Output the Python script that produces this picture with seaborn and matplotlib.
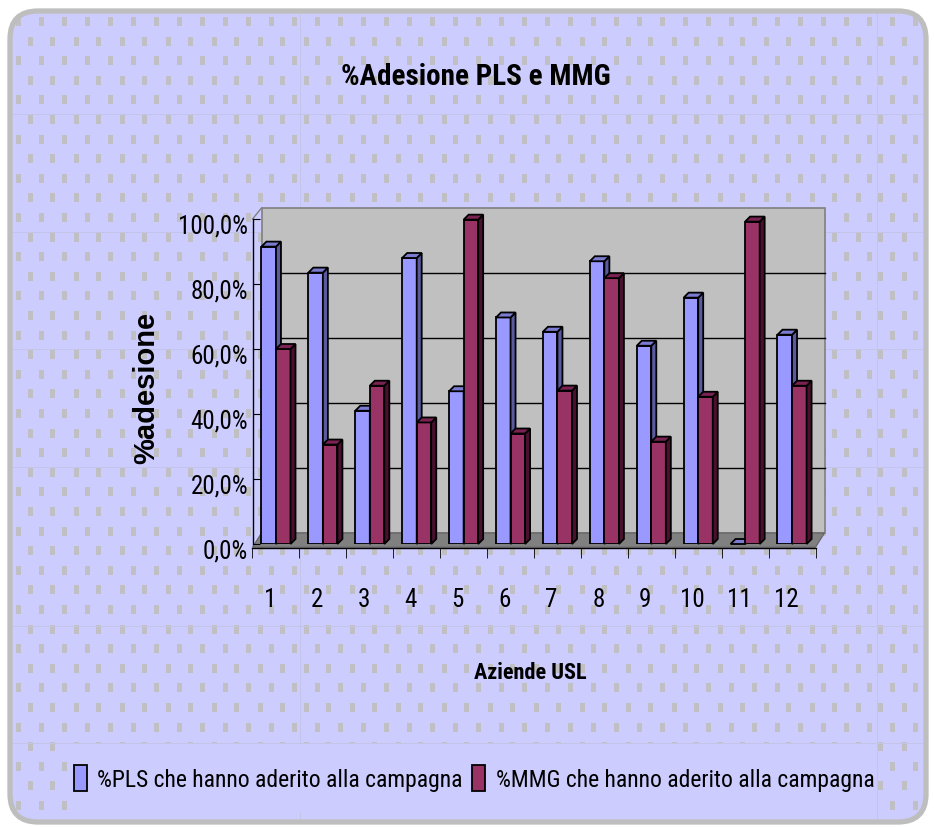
import numpy as np
import pandas as pd
import matplotlib
matplotlib.use("Agg")
import matplotlib.pyplot as plt
import seaborn as sns
from matplotlib import transforms
from matplotlib.patches import FancyBboxPatch, Rectangle, Polygon, Patch
from matplotlib.ticker import FuncFormatter

# Data
aziende = ["1", "2", "3", "4", "5", "6", "7", "8", "9", "10", "11", "12"]
pls = [91.5, 83.5, 41.0, 88.0, 47.0, 69.7, 65.3, 87.0, 61.0, 75.8, 0.0, 64.4]
mmg = [60.0, 30.6, 48.7, 37.4, 99.8, 34.0, 47.2, 81.8, 31.5, 45.3, 99.2, 48.7]
serie = ["%PLS che hanno aderito alla campagna", "%MMG che hanno aderito alla campagna"]
yticks = [0, 20, 40, 60, 80, 100]

colori = {serie[0]: "#9999FF", serie[1]: "#993366"}
lati = {serie[0]: "#5A5A9E", serie[1]: "#4A1030"}
cime = {serie[0]: "#7B7BD0", serie[1]: "#7A2352"}

df = pd.DataFrame({
    "azienda": aziende * 2,
    "serie": [serie[0]] * len(aziende) + [serie[1]] * len(aziende),
    "valore": pls + mmg,
})

narrow = ["Roboto Condensed", "DejaVu Sans"]
W, H = 934, 828
fig = plt.figure(figsize=(W / 100, H / 100), dpi=100)
fig.patch.set_facecolor("white")

# background with the grey dash texture
bg = fig.add_axes([0, 0, 1, 1], zorder=0)
bg.set_xlim(0, W)
bg.set_ylim(H, 0)
bg.axis("off")
lav = np.array([204, 204, 255]) / 255
img = np.ones((H, W, 3)) * lav
grey = np.array([192, 192, 196]) / 255
for r, y in enumerate(np.arange(18, H, 19.6)):
    off = 16 if r % 2 == 0 else 27.5
    for x in np.arange(off, W, 23):
        xi, yi = int(round(x)), int(round(y))
        img[yi:yi + 9, xi:xi + 5] = grey
riga = np.array([196, 196, 232]) / 255
for y in (115, 233, 350, 468, 627, 744):
    img[y, :] = riga
for x in (300, 877):
    img[:, x] = riga
# legend area has a plain fill
img[745:814, 72:877] = lav
im = bg.imshow(img, extent=(0, W, H, 0), aspect="auto", interpolation="nearest")
cornice = FancyBboxPatch((10, 12), 916, 811, boxstyle="round,pad=0,rounding_size=28",
                         fc="none", ec="#BEBEBE", lw=3.8, transform=bg.transData)
bg.add_patch(cornice)
im.set_clip_path(cornice)

# main axes (front plane of the 3D box)
L, R, B, T = 252.5, 815.5, 545, 220
ax = fig.add_axes([L / W, 1 - B / H, (R - L) / W, (B - T) / H], zorder=2)
ax.set_facecolor("none")

sns.barplot(data=df, x="azienda", y="valore", hue="serie", palette=colori,
            saturation=1, width=0.62, edgecolor="black", linewidth=1.3,
            legend=False, ax=ax)
ax.set_xlim(-0.5, len(aziende) - 0.5)
ax.set_ylim(0, 100)

# back wall, gridlines and floor, shifted back in depth
dpx, dpy = 9, 11
dx_ax, dy_ax = dpx / (R - L), dpy / (B - T)
back = transforms.offset_copy(ax.transAxes, fig=fig, x=dpx, y=dpy, units="dots")
ax.add_patch(Rectangle((0, 0), 1, 1, transform=back, fc="#C0C0C0", ec="#808080",
                       lw=1.2, zorder=0.5, clip_on=False))
back_y = transforms.offset_copy(ax.get_yaxis_transform(), fig=fig, x=dpx, y=dpy, units="dots")
for v in yticks[1:-1]:
    ax.plot([0, 1], [v, v], transform=back_y, color="black", lw=1.0, zorder=0.6, clip_on=False)
ax.add_patch(Polygon([(0, -0.01), (1, -0.01), (1 + dx_ax, dy_ax), (dx_ax, dy_ax)],
                     closed=True, transform=ax.transAxes, fc="#808080", ec="#606060",
                     lw=0.8, zorder=0.7, clip_on=False))
# slanted edge joining front axis top to back wall
ax.plot([0, dx_ax], [1, 1 + dy_ax], transform=ax.transAxes, color="#808080",
        lw=1.0, zorder=0.6, clip_on=False)

# 3D faces on the bars
ddx = 5 / ((R - L) / len(aziende))
ddy = 5 / (B - T) * 100
barre = [p for p in ax.patches if isinstance(p, Rectangle) and p.get_width() < 1]
n = len(aziende)
for i, p in enumerate(barre):
    s = serie[0] if i < n else serie[1]
    z = 2 if i < n else 3
    p.set_zorder(z)
    x0, w, h = p.get_x(), p.get_width(), p.get_height()
    top = Polygon([(x0, h), (x0 + w, h), (x0 + w + ddx, h + ddy), (x0 + ddx, h + ddy)],
                  closed=True, fc=cime[s], ec="black", lw=1.3, zorder=z + 0.1)
    side = Polygon([(x0 + w, 0), (x0 + w, h), (x0 + w + ddx, h + ddy), (x0 + w + ddx, ddy)],
                   closed=True, fc=lati[s], ec="black", lw=1.3, zorder=z + 0.1)
    ax.add_patch(side)
    ax.add_patch(top)
    for q in (top, side):
        q.set_clip_on(False)

# axes styling
for sp in ("top", "right"):
    ax.spines[sp].set_visible(False)
ax.spines["left"].set_color("black")
ax.spines["bottom"].set_color("black")
ax.spines["left"].set_linewidth(1.0)
ax.spines["bottom"].set_linewidth(1.0)
ax.spines["bottom"].set_position(("outward", 3))
ax.set_yticks(yticks)
ax.yaxis.set_major_formatter(FuncFormatter(lambda v, _: f"{v:.1f}%".replace(".", ",")))
ax.tick_params(axis="y", direction="in", length=5, pad=3, labelsize=18)
ax.set_xticks(np.arange(n + 1) - 0.5, minor=True)
ax.tick_params(axis="x", which="major", length=0, pad=28, labelsize=18)
ax.tick_params(axis="x", which="minor", length=7, direction="out")
sposta_x = transforms.ScaledTranslation(-6 / 100, 0, fig.dpi_scale_trans)
for t in ax.get_xticklabels():
    t.set_transform(t.get_transform() + sposta_x)
sposta_y = transforms.ScaledTranslation(0, -4 / 100, fig.dpi_scale_trans)
for t in ax.get_yticklabels():
    t.set_transform(t.get_transform() + sposta_y)
for t in ax.get_xticklabels() + ax.get_yticklabels():
    t.set_family(narrow)
ax.set_xlabel("")
ax.set_ylabel("")

# titles
fig.text(476 / W, 1 - 77 / H, "%Adesione PLS e MMG", ha="center", va="center",
         fontsize=21, fontweight="bold", family=narrow)
fig.text(146 / W, 1 - 388 / H, "%adesione", ha="center", va="center", rotation=90,
         fontsize=21, fontweight="bold", family="Liberation Sans")
fig.text(530 / W, 1 - 673 / H, "Aziende USL", ha="center", va="center",
         fontsize=16, fontweight="bold", family=narrow)

# legend
handles = [Patch(fc=colori[s], ec="black", lw=1.3, label=s) for s in serie]
fig.legend(handles=handles, loc="center", bbox_to_anchor=(474 / W, 1 - 779 / H),
           ncol=2, frameon=False, handlelength=0.55, handleheight=1.3,
           handletextpad=0.45, columnspacing=0.4, prop={"family": narrow, "size": 17})

fig.savefig("out.png", dpi=100)
